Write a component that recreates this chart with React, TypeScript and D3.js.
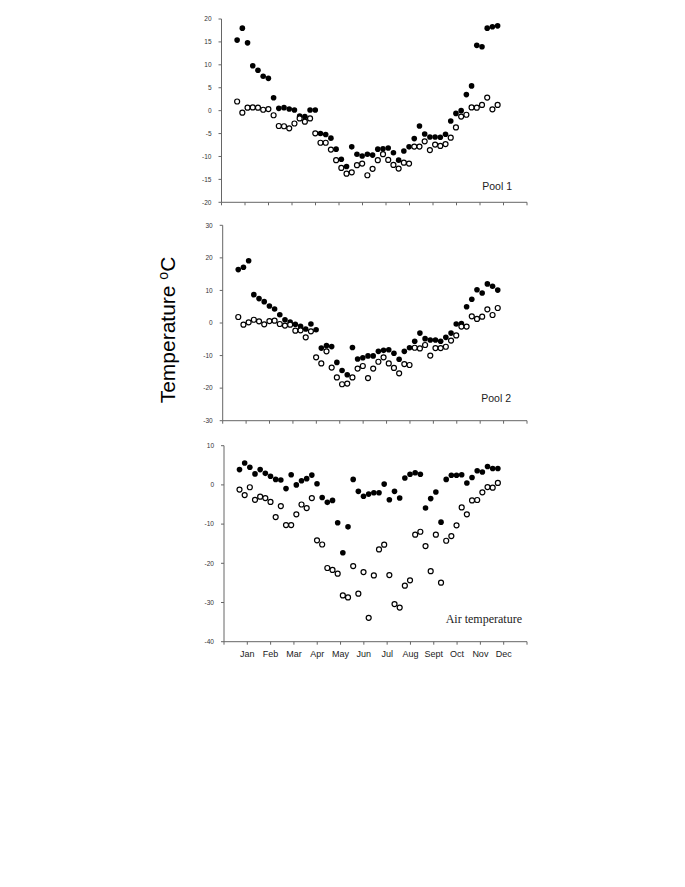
import React from "react";
import * as d3 from "d3";

// weekly readings, one per week through the year
const months = ["Jan", "Feb", "Mar", "Apr", "May", "Jun", "Jul", "Aug", "Sept", "Oct", "Nov", "Dec"];

const pool1Filled = [15.4, 18.0, 14.8, 9.8, 8.8, 7.5, 7.05, 2.8, 0.5, 0.65, 0.35, 0.15, -1.2, -1.3, 0.15, 0.15,
    -5.0, -5.2, -6.0, -8.4, -10.6, -12.2, -7.9, -9.5, -9.9, -9.5, -9.7, -8.4, -8.3, -8.15, -9.2, -10.8, -8.8,
    -7.9, -6.1, -3.35, -5.1, -5.75, -5.75, -5.8, -5.15, -2.25, -0.6, 0, 3.5, 5.4, 14.25, 13.95, 18.0, 18.3, 18.5];
const pool1Open = [2.0, -0.45, 0.65, 0.7, 0.65, 0.2, 0.35, -1.0, -3.35, -3.4, -3.85, -2.8, -1.7, -2.4, -1.7, -4.95,
    -7.0, -7.0, -8.5, -10.8, -12.5, -13.75, -13.45, -11.9, -11.55, -14.1, -12.7, -10.8, -9.5, -10.75, -11.85,
    -12.65, -11.35, -11.55, -7.85, -7.85, -6.7, -8.6, -7.4, -7.7, -7.3, -5.9, -3.65, -1.3, -0.9, 0.7, 0.65, 1.25,
    2.85, 0.3, 1.25];

const pool2Filled = [16.4, 17.1, 19.1, 8.7, 7.5, 6.55, 5.2, 4.3, 2.55, 1.0, 0.3, -0.4, -1.0, -1.85, -0.3, -2.05,
    -7.7, -6.95, -7.25, -12.1, -14.6, -15.9, -7.5, -11.05, -10.65, -10.1, -10.1, -8.7, -8.4, -8.2, -9.3, -11.15,
    -8.7, -7.6, -5.6, -3.1, -4.8, -5.2, -5.2, -5.6, -4.4, -3.1, -0.3, -0.2, 5.0, 7.3, 10.2, 9.2, 12.0, 11.3, 10.1];
const pool2Open = [1.85, -0.5, 0.2, 1.0, 0.5, -0.4, 0.6, 0.7, -0.3, -0.8, -0.5, -2.35, -2.25, -4.4, -2.55, -10.55,
    -12.4, -8.7, -13.7, -16.7, -18.8, -18.6, -16.7, -14.0, -13.2, -16.9, -14.0, -11.9, -10.55, -12.4, -13.8,
    -15.45, -12.6, -12.9, -7.6, -7.8, -6.75, -10.0, -7.7, -7.7, -7.3, -5.4, -3.8, -1.1, -1.1, 2.05, 1.25, 1.95,
    4.2, 2.45, 4.6];

const airFilled = [3.9, 5.6, 4.5, 2.8, 3.9, 2.95, 2.2, 1.4, 1.25, -0.95, 2.6, 0, 1.05, 1.6, 2.5, 0.3, -3.2, -4.45,
    -3.95, -9.65, -17.3, -10.7, 1.4, -1.65, -2.9, -2.35, -2.0, -2.0, 0.2, -3.8, -1.65, -3.35, 1.75, 2.7, 3.1, 2.7,
    -5.9, -3.5, -1.8, -9.5, 1.4, 2.45, 2.45, 2.6, 0.5, 1.9, 3.6, 3.3, 4.7, 4.2, 4.2];
const airOpen = [-1.2, -2.6, -0.6, -3.8, -3.0, -3.35, -4.35, -8.2, -5.4, -10.25, -10.25, -7.5, -5.0, -5.9, -3.35,
    -14.15, -15.2, -21.2, -21.7, -22.65, -28.2, -28.7, -20.7, -27.75, -22.25, -33.9, -23.1, -16.45, -15.25, -23.0,
    -30.4, -31.3, -25.7, -24.35, -12.7, -11.95, -15.6, -22.0, -12.7, -24.95, -14.25, -13.05, -10.3, -5.75, -7.5,
    -3.95, -3.85, -1.9, -0.55, -0.7, 0.5];

const pool1Ticks = [20, 15, 10, 5, 0, -5, -10, -15, -20];
const pool2Ticks = [30, 20, 10, 0, -10, -20, -30];
const airTicks = [10, 0, -10, -20, -30, -40];

const RIGHT = 527;
const axisColor = "#666";
const labelFont = "Arial, 'Liberation Sans', sans-serif";

// week index -> position in month units on the axis
const weekToMonth = d3.scaleLinear().domain([0, 50]).range([0.665, 11.75]);

type PanelProps = {
    filled: number[];
    open: number[];
    ticks: number[];
    domain: [number, number];
    top: number;
    bottom: number;
    left: number;
    label: string;
    labelSerif?: boolean;
    labelX: number;
    labelY: number;
    showMonths?: boolean;
};

const Panel = (p: PanelProps) => {
    const x = d3.scaleLinear().domain([0, 13]).range([p.left, RIGHT]);
    const y = d3.scaleLinear().domain(p.domain).range([p.bottom, p.top]);
    const xt = d3.range(14);

    return (
        <g>
            <line x1={p.left} x2={p.left} y1={y(p.domain[1])} y2={y(p.domain[0])} stroke={axisColor} strokeWidth={1}/>
            {p.ticks.map(t => (
                <g key={t}>
                    <line x1={p.left - 3} x2={p.left} y1={y(t)} y2={y(t)} stroke={axisColor}/>
                    <text x={p.left - 10} y={y(t)} dy="0.35em" textAnchor="end" fontSize={6.5}
                          fontFamily={labelFont} fill="#333">{t}</text>
                </g>
            ))}
            <line x1={p.left} x2={RIGHT} y1={p.bottom} y2={p.bottom} stroke={axisColor}/>
            {xt.map(t => (
                <line key={t} x1={x(t)} x2={x(t)} y1={p.bottom} y2={p.bottom + 3} stroke={axisColor}/>
            ))}
            {p.showMonths && months.map((m, i) => (
                <text key={m} x={x(i + 1)} y={p.bottom + 15} textAnchor="middle" fontSize={9}
                      fontFamily={labelFont} fill="#222">{m}</text>
            ))}
            {p.filled.map((v, i) => (
                <circle key={"f" + i} cx={x(weekToMonth(i))} cy={y(v)} r={2.8} fill="#000"/>
            ))}
            {p.open.map((v, i) => (
                <circle key={"o" + i} cx={x(weekToMonth(i))} cy={y(v)} r={2.5} fill="#fff" stroke="#000"
                        strokeWidth={1.2}/>
            ))}
            <text x={p.labelX} y={p.labelY} textAnchor="end" fontSize={p.labelSerif ? 12 : 10.5}
                  fontFamily={p.labelSerif ? "'Liberation Serif', 'Times New Roman', serif" : labelFont}
                  fill="#222">{p.label}</text>
        </g>
    );
};

export default function App() {
    return (
        <svg width={685} height={887} style={{position: "absolute", left: 0, top: 0, background: "#fff"}}>
            <Panel filled={pool1Filled} open={pool1Open} ticks={pool1Ticks} domain={[-20, 20]}
                   top={19} bottom={202.3} left={221.5} label="Pool 1" labelX={512} labelY={189.5}/>
            <Panel filled={pool2Filled} open={pool2Open} ticks={pool2Ticks} domain={[-30, 30]}
                   top={225.3} bottom={420.7} left={222.7} label="Pool 2" labelX={511} labelY={402}/>
            <Panel filled={airFilled} open={airOpen} ticks={airTicks} domain={[-40, 10]}
                   top={445.7} bottom={641.7} left={224} label="Air temperature" labelSerif labelX={522}
                   labelY={623} showMonths/>
            <text transform="translate(175,330) rotate(-90)" textAnchor="middle" fontSize={21}
                  fontFamily={labelFont} fill="#000">
                Temperature <tspan fontSize={14} dy={-7}>o</tspan><tspan dy={7}>C</tspan>
            </text>
        </svg>
    );
}
